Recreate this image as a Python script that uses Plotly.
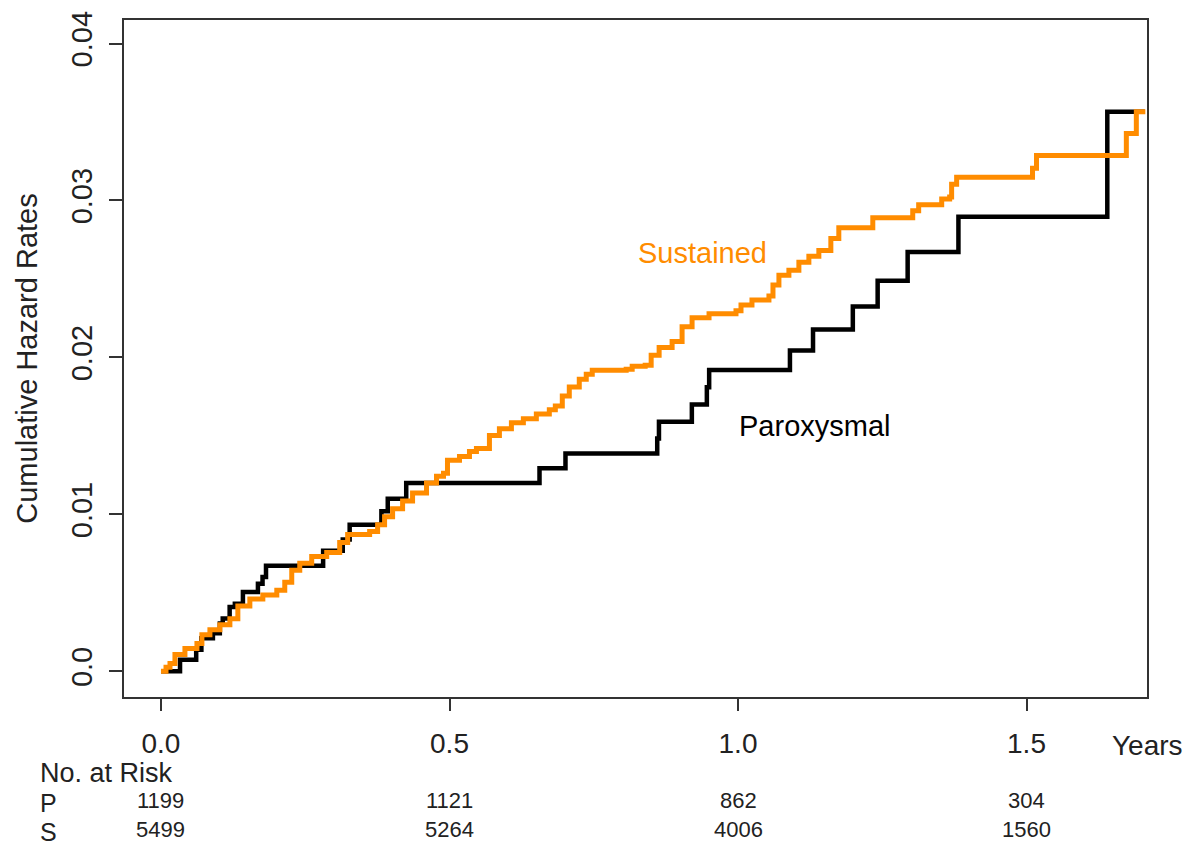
import plotly.graph_objects as go

# Cumulative hazard step functions (time in years, cumulative hazard)
parox_t = [0, 0.033, 0.061, 0.070, 0.090, 0.102, 0.107, 0.119, 0.128, 0.142,
           0.168, 0.176, 0.182, 0.281, 0.315, 0.327, 0.382, 0.393, 0.425, 0.656,
           0.701, 0.860, 0.863, 0.920, 0.946, 0.950, 1.090, 1.130, 1.199, 1.242,
           1.294, 1.382, 1.640, 1.705]
parox_h = [0, 0.00074, 0.00137, 0.0021, 0.00242, 0.00305, 0.00336, 0.0041, 0.00431, 0.00505,
           0.00557, 0.0060, 0.00673, 0.00768, 0.00839, 0.00934, 0.0102, 0.0110, 0.0120, 0.01293,
           0.01388, 0.01483, 0.0159, 0.0170, 0.0181, 0.0192, 0.02044, 0.02177, 0.02324, 0.02489,
           0.02671, 0.02896, 0.03565, 0.03565]

sust_t = [0, 0.0087, 0.0156, 0.0242, 0.0415, 0.0623, 0.0709, 0.0848, 0.1021, 0.1194,
          0.1332, 0.154, 0.1765, 0.2007, 0.2145, 0.2266, 0.2405, 0.2612, 0.2872, 0.3097,
          0.3235, 0.3616, 0.3754, 0.3875, 0.4014, 0.4187, 0.436, 0.4602, 0.4775, 0.4896,
          0.4965, 0.5173, 0.5346, 0.5467, 0.5692, 0.5865, 0.6073, 0.628, 0.6505, 0.673,
          0.6834, 0.6955, 0.7076, 0.7249, 0.737, 0.7474, 0.8062, 0.8166, 0.8391, 0.8495,
          0.8633, 0.8858, 0.9031, 0.9204, 0.9498, 0.9965, 1.0052, 1.0242, 1.0536, 1.0606,
          1.0709, 1.0882, 1.1055, 1.1228, 1.1401, 1.1609, 1.1747, 1.2336, 1.3028, 1.3131,
          1.353, 1.3668, 1.3702, 1.3789, 1.5104, 1.5173, 1.673, 1.6903, 1.7059]
sust_h = [0, 0.00025, 0.0005, 0.00107, 0.00145, 0.00177, 0.00233, 0.00265, 0.00297, 0.00334,
          0.00416, 0.00461, 0.00486, 0.00517, 0.00568, 0.00644, 0.00688, 0.00732, 0.00757, 0.0082,
          0.00871, 0.0089, 0.00934, 0.00984, 0.01035, 0.01085, 0.01136, 0.01199, 0.01243, 0.01262,
          0.01344, 0.01369, 0.01401, 0.0142, 0.01502, 0.01546, 0.01584, 0.01609, 0.0164, 0.01666,
          0.01691, 0.01754, 0.01811, 0.01861, 0.01893, 0.01918, 0.01924, 0.01943, 0.0195, 0.02013,
          0.02063, 0.02101, 0.02196, 0.02252, 0.02278, 0.02297, 0.02334, 0.02366, 0.02391, 0.02461,
          0.02524, 0.02555, 0.02606, 0.02644, 0.02681, 0.02757, 0.02826, 0.0289, 0.02934, 0.02972,
          0.03009, 0.03022, 0.03104, 0.03148, 0.03205, 0.03287, 0.03426, 0.03565, 0.03565]

# Axis ticks
x_ticks = [0, 0.5, 1.0, 1.5]
x_tick_labels = ["0.0", "0.5", "1.0", "1.5"]
y_ticks = [0, 0.01, 0.02, 0.03, 0.04]
y_tick_labels = ["0.0", "0.01", "0.02", "0.03", "0.04"]

# Number at risk table
risk_times = [0, 0.5, 1.0, 1.5]
risk_P = [1199, 1121, 862, 304]
risk_S = [5499, 5264, 4006, 1560]

ORANGE = "#FF8C00"
FONT = "Liberation Sans, Arial, sans-serif"

fig = go.Figure()
fig.add_trace(go.Scatter(x=parox_t, y=parox_h, mode="lines", line_shape="hv",
                         line=dict(color="black", width=4.5), name="Paroxysmal",
                         showlegend=False))
fig.add_trace(go.Scatter(x=sust_t, y=sust_h, mode="lines", line_shape="hv",
                         line=dict(color=ORANGE, width=5), name="Sustained",
                         showlegend=False))

ann = [
    dict(x=0.9376, y=0.02667, xref="x", yref="y", text="Sustained", showarrow=False,
         font=dict(color=ORANGE, size=29)),
    dict(x=1.1334, y=0.0156, xref="x", yref="y", text="Paroxysmal", showarrow=False,
         font=dict(color="black", size=29)),
    dict(x=1.0, y=-0.0714, xref="paper", yref="paper", text="Years", showarrow=False,
         font=dict(size=28), xanchor="center", yanchor="middle"),
    dict(x=-0.0841, y=-0.1120, xref="paper", yref="paper", text="No. at Risk", showarrow=False,
         font=dict(size=27), xanchor="left", yanchor="middle"),
    dict(x=-0.0841, y=-0.1560, xref="paper", yref="paper", text="P", showarrow=False,
         font=dict(size=25), xanchor="left", yanchor="middle"),
    dict(x=-0.0841, y=-0.1995, xref="paper", yref="paper", text="S", showarrow=False,
         font=dict(size=25), xanchor="left", yanchor="middle"),
]
for t, p, s in zip(risk_times, risk_P, risk_S):
    ann.append(dict(x=t, y=-0.1531, xref="x", yref="paper", text=str(p), showarrow=False,
                    font=dict(size=22), xanchor="center", yanchor="middle"))
    ann.append(dict(x=t, y=-0.1953, xref="x", yref="paper", text=str(s), showarrow=False,
                    font=dict(size=22), xanchor="center", yanchor="middle"))

fig.update_layout(
    width=1190, height=846,
    margin=dict(l=124, r=43, t=11, b=149),
    paper_bgcolor="white", plot_bgcolor="white",
    font=dict(family=FONT, color="#222"),
    annotations=ann,
    xaxis=dict(range=[-0.0641, 1.7088], tickvals=x_ticks, ticktext=x_tick_labels,
               ticks="outside", ticklen=12, tickwidth=1.5, tickcolor="#333",
               showline=True, mirror=True, linecolor="#333", linewidth=1.5,
               showgrid=False, zeroline=False, tickfont=dict(size=28),
               ticklabelstandoff=9),
    yaxis=dict(range=[-0.00164, 0.0415], tickvals=y_ticks, ticktext=y_tick_labels,
               tickangle=-90, ticks="outside", ticklen=13, tickwidth=1.5, tickcolor="#333",
               showline=True, mirror=True, linecolor="#333", linewidth=1.5,
               showgrid=False, zeroline=False, tickfont=dict(size=29),
               ticklabelstandoff=6,
               title=dict(text="Cumulative Hazard Rates", font=dict(size=29), standoff=20)),
)

fig.write_html("out.html")
